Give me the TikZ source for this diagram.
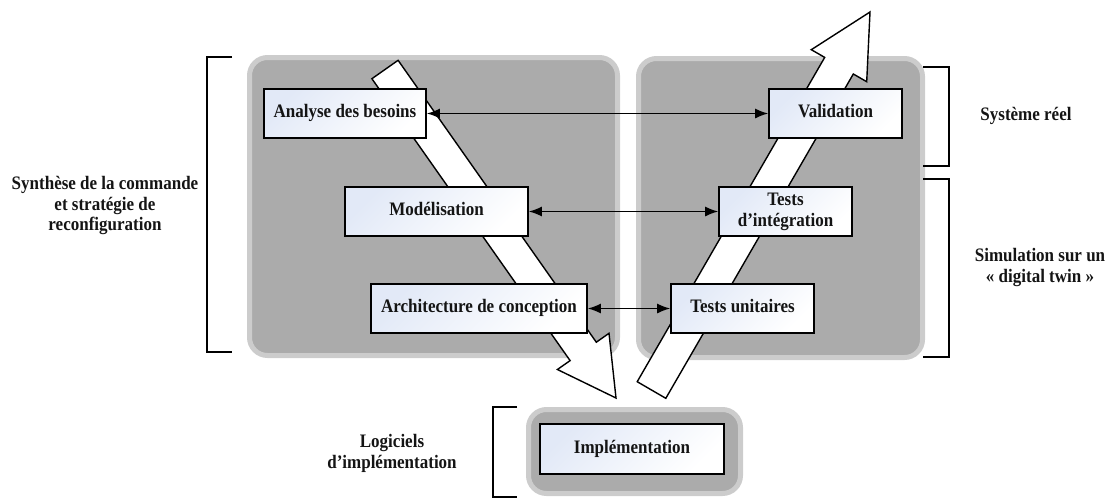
\documentclass[tikz,border=0pt]{standalone}
\usepackage{fontspec}
\setmainfont{Liberation Serif}
\usetikzlibrary{arrows.meta}
\definecolor{panelfill}{RGB}{171,171,171}
\definecolor{panelrim}{RGB}{204,204,204}
\definecolor{boxtint}{RGB}{226,233,247}
\definecolor{ink}{RGB}{20,20,20}
% bold labels, slightly stretched vertically
\newcommand{\lbl}[1]{\scalebox{1}[1.12]{\begin{tabular}{@{}c@{}}#1\end{tabular}}}
\tikzset{
  panel/.style={draw=panelrim, line width=5pt, fill=panelfill, rounded corners=18pt},
  bigarrow/.style={draw=black, line width=1.4pt, fill=white, line join=miter},
  stage/.style={draw=black, line width=1.6pt, top color=boxtint, bottom color=white,
    shading angle=45, minimum height=49pt, inner sep=2pt, align=center, text=ink,
    font=\bfseries\fontsize{17}{18.5}\selectfont},
  link/.style={line width=1.5pt, {Latex[length=13pt,width=10pt]}-{Latex[length=13pt,width=10pt]}},
  bracket/.style={line width=1.5pt},
  side/.style={align=center, text=ink, font=\bfseries\fontsize{17}{18.5}\selectfont}
}
\begin{document}
\begin{tikzpicture}[x=1pt,y=-1pt]
\useasboundingbox (0,0) rectangle (1110,498);

% grey phase panels
\draw[panel] (249.5,57.5) rectangle (617.5,355.5);
\draw[panel] (638.5,58.5) rectangle (922.5,357.5);
\draw[panel] (528.5,409.5) rectangle (740.5,493.5);

% descending branch of the V
\draw[bigarrow] (371.9,78.7) -- (398.1,60.3) -- (596.3,342.2) -- (609.0,333.3)
  -- (616,398) -- (557.4,369.5) -- (570.1,360.6) -- cycle;
% ascending branch of the V
\draw[bigarrow] (637.2,381.7) -- (824.7,57.4) -- (811.3,49.7) -- (870,12)
  -- (866.7,81.7) -- (853.3,74.0) -- (665.8,398.3) -- cycle;

% stages
\node[stage, minimum width=162pt] (ana) at (345,113.5) {\lbl{Analyse des besoins}};
\node[stage, minimum width=183pt] (mod) at (436.5,211.5) {\lbl{Modélisation}};
\node[stage, minimum width=216pt] (arc) at (479,308.5) {\lbl{Architecture de conception}};
\node[stage, minimum width=133pt] (val) at (835.5,113.5) {\lbl{Validation}};
\node[stage, minimum width=133pt] (tin) at (785.5,211.5) {\lbl{Tests\\d’intégration}};
\node[stage, minimum width=143pt] (tun) at (742.5,308.5) {\lbl{Tests unitaires}};
\node[stage, minimum width=184pt, minimum height=50pt] (imp) at (632,449) {\lbl{Implémentation}};

% correspondences between the two branches
\draw[link] (ana.east) -- (val.west);
\draw[link] (mod.east) -- (tin.west);
\draw[link] (arc.east) -- (tun.west);

% brackets
\draw[bracket] (232,57) -- (207,57) -- (207,352) -- (232,352);
\draw[bracket] (923,67) -- (949,67) -- (949,166) -- (923,166);
\draw[bracket] (923,179) -- (949,179) -- (949,357) -- (923,357);
\draw[bracket] (517,407) -- (493,407) -- (493,497) -- (517,497);

% side labels
\node[side] (lsyn) at (105,206) {\lbl{Synthèse de la commande\\et stratégie de\\reconfiguration}};
\node[side] (lsys) at (1026,116) {\lbl{Système réel}};
\node[side] (lsim) at (1040,268) {\lbl{Simulation sur un\\« digital twin »}};
\node[side] (llog) at (392,454) {\lbl{Logiciels\\d’implémentation}};
\end{tikzpicture}
\end{document}
